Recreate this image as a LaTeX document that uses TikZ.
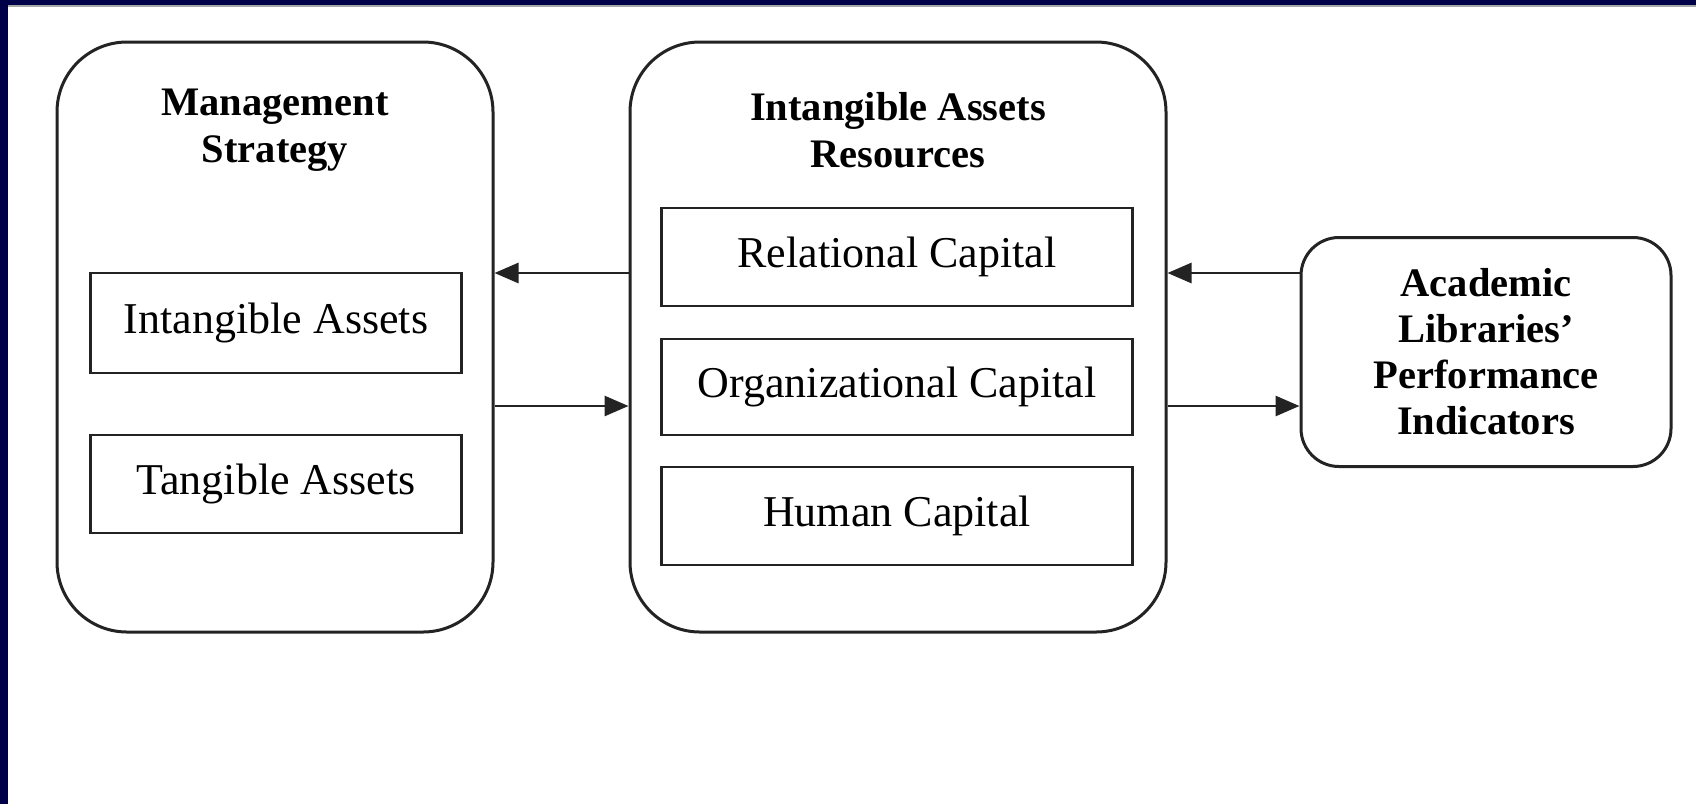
\documentclass[tikz,border=0pt]{standalone}
\usepackage{fontspec}
\setmainfont{Liberation Serif}
\usepackage{tikz}
\usetikzlibrary{arrows.meta, positioning}
\definecolor{navy}{RGB}{0,0,72}
\definecolor{ink}{RGB}{35,35,35}

\begin{document}
\begin{tikzpicture}[x=0.5pt, y=-0.5pt,
  outer/.style={draw=ink, line width=1.5pt, rounded corners=35pt, inner sep=0pt},
  inner/.style={draw=ink, line width=1.3pt, inner sep=0pt, font=\fontsize{22}{26}\selectfont},
  title/.style={align=center, inner sep=0pt, font=\bfseries\fontsize{20.25}{23.5}\selectfont},
  arr/.style={draw=ink, line width=1.4pt, -{Triangle[length=12pt,width=10pt]}}]
\useasboundingbox (0,0) rectangle (1696,804);
\fill[white] (0,0) rectangle (1696,804);
\fill[navy] (0,0) rectangle (1696,5);
\fill[black!35] (8,5) rectangle (1696,7);
\fill[navy] (0,0) rectangle (8,804);

\node [outer, minimum width=218pt, minimum height=295pt] (ms) at (275,337) {};
\node [outer, minimum width=268pt, minimum height=295pt] (iar) at (898,337) {};
\node [outer, rounded corners=19pt, minimum width=185pt, minimum height=114.5pt, align=center,
  font=\bfseries\fontsize{20.25}{23}\selectfont] (alpi) at (1486,352) {Academic\\Libraries'\\Performance\\Indicators};

\node [title] (mstitle) at (275,130) {Management\\Strategy};
\node [title] (iartitle) at (898,130) {Intangible Assets\\Resources};

\node [inner, minimum width=185.5pt, minimum height=50pt] (ia) at (276,323) {Intangible Assets};
\node [inner, minimum width=185.5pt, minimum height=49pt] (ta) at (276,484) {Tangible Assets};

\node [inner, minimum width=235.5pt, minimum height=49pt] (rc) at (897,257) {Relational Capital};
\node [inner, minimum width=235.5pt, minimum height=48pt] (oc) at (897,387) {Organizational Capital};
\node [inner, minimum width=235.5pt, minimum height=49pt] (hc) at (897,516) {Human Capital};

\coordinate (up) at (0,273);
\coordinate (lo) at (0,406);
\draw [arr] (iar.west |- up) -- (ms.east |- up);
\draw [arr] (ms.east |- lo) -- (iar.west |- lo);
\draw [arr] (alpi.west |- up) -- (iar.east |- up);
\draw [arr] (iar.east |- lo) -- (alpi.west |- lo);
\end{tikzpicture}
\end{document}
